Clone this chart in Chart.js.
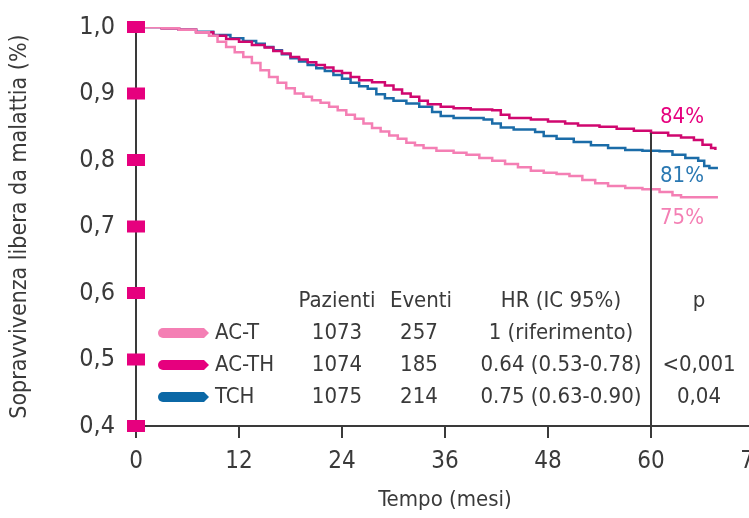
<!DOCTYPE html>
<html>
<head>
<meta charset="utf-8">
<script src="https://cdn.jsdelivr.net/npm/chart.js@4.4.1/dist/chart.umd.min.js"></script>
<style>
  html, body { margin: 0; padding: 0; background: #fff; overflow: hidden; }
  #wrap { width: 780px; height: 518px; }
</style>
</head>
<body>
<div id="wrap"><canvas id="km" width="780" height="518"></canvas></div>
<script>
// Kaplan-Meier curves (months, survival)
const acTMonths = [0, 3, 5, 7, 8.5, 9.5, 10.5, 11.5, 12.5, 13.5, 14.5, 15.5, 16.5, 17.5, 18.5, 19.5, 20.5, 21.5, 22.5, 23.5, 24.5, 25.5, 26.5, 27.5, 28.5, 29.5, 30.5, 31.5, 32.5, 33.5, 35, 37, 38.5, 40, 41.5, 43, 44.5, 46, 47.5, 49, 50.5, 52, 53.5, 55, 57, 59, 61, 62.5, 63.5, 67.8];
const acTSurv = [1.000, 0.998, 0.996, 0.992, 0.987, 0.978, 0.970, 0.962, 0.955, 0.946, 0.935, 0.925, 0.916, 0.908, 0.900, 0.895, 0.890, 0.886, 0.880, 0.875, 0.868, 0.862, 0.855, 0.848, 0.843, 0.837, 0.832, 0.826, 0.822, 0.818, 0.814, 0.811, 0.808, 0.803, 0.799, 0.794, 0.789, 0.784, 0.781, 0.779, 0.776, 0.770, 0.765, 0.761, 0.758, 0.756, 0.752, 0.747, 0.744, 0.744];

const acTHMonths = [0, 3, 5, 7, 9, 10.5, 12, 13.5, 15, 16, 17, 18, 19, 20, 21, 22, 23, 24, 25, 26, 27.5, 29, 30, 31, 32, 33, 34, 35.5, 37, 39, 41.5, 42.5, 43.5, 46, 48, 50, 51.5, 54, 56, 58, 60, 62, 63.5, 65, 66, 67, 67.5];
const acTHSurv = [1.000, 0.998, 0.996, 0.992, 0.987, 0.982, 0.978, 0.973, 0.969, 0.964, 0.960, 0.955, 0.951, 0.947, 0.943, 0.939, 0.934, 0.931, 0.925, 0.920, 0.917, 0.912, 0.906, 0.900, 0.895, 0.889, 0.884, 0.880, 0.878, 0.876, 0.875, 0.868, 0.863, 0.861, 0.858, 0.855, 0.852, 0.850, 0.847, 0.844, 0.841, 0.837, 0.834, 0.830, 0.823, 0.818, 0.815];

const tchMonths = [0, 3, 5, 7, 9, 11, 12.5, 14, 15, 16, 17, 18, 19, 20, 21, 22, 23, 24, 25, 26, 27, 28, 29, 30, 31.5, 33, 34.5, 35.5, 37, 40.5, 41.5, 42.5, 44, 46.5, 47.5, 49, 51, 53, 55, 57, 59, 61, 62.5, 64, 65.5, 66.2, 66.8, 67.8];
const tchSurv = [1.000, 0.998, 0.996, 0.993, 0.988, 0.983, 0.979, 0.975, 0.970, 0.965, 0.959, 0.953, 0.948, 0.943, 0.938, 0.934, 0.928, 0.922, 0.916, 0.911, 0.907, 0.899, 0.893, 0.889, 0.885, 0.880, 0.872, 0.866, 0.863, 0.861, 0.855, 0.849, 0.846, 0.842, 0.836, 0.832, 0.827, 0.822, 0.818, 0.815, 0.814, 0.813, 0.808, 0.803, 0.799, 0.791, 0.788, 0.788];

// table / legend content
const groups = ['AC-T', 'AC-TH', 'TCH'];
const patients = ['1073', '1074', '1075'];
const events = ['257', '185', '214'];
const hazardRatios = ['1 (riferimento)', '0.64 (0.53-0.78)', '0.75 (0.63-0.90)'];
const pValues = ['', '<0,001', '0,04'];
const tableHeaders = ['Pazienti', 'Eventi', 'HR (IC 95%)', 'p'];
const endLabels = ['75%', '84%', '81%'];
const refMonth = 60;

const lineColors = ['#f47fb4', '#d0076f', '#1b6ca8'];
const swatchColors = ['#f47fb4', '#e6007e', '#0b68a6'];
const labelColors = ['#f47fb4', '#e6007e', '#2a78b2'];
const MARK = '#e6007e';
const AXIS = '#3a3a3a';
const TEXT = '#3a3a3a';
const NARROW = "'Liberation Sans Narrow', 'DejaVu Sans Condensed', 'Liberation Sans', sans-serif";

const toPoints = (ms, vs) => ms.map((m, i) => ({ x: m, y: vs[i] }));

function survAt(ms, vs, m) {
  let v = vs[0];
  ms.forEach((t, i) => { if (t <= m) v = vs[i]; });
  return v;
}

function swatch(ctx, x0, x1, cy, h, color) {
  const r = h / 2;
  ctx.beginPath();
  ctx.moveTo(x0 + r, cy - r);
  ctx.lineTo(x1 - r, cy - r);
  ctx.lineTo(x1, cy);
  ctx.lineTo(x1 - r, cy + r);
  ctx.lineTo(x0 + r, cy + r);
  ctx.arc(x0 + r, cy, r, Math.PI / 2, Math.PI * 1.5);
  ctx.closePath();
  ctx.fillStyle = color;
  ctx.fill();
}

const extras = {
  id: 'kmExtras',
  afterDraw(chart) {
    const ctx = chart.ctx;
    const xs = chart.scales.x;
    const ys = chart.scales.y;
    ctx.save();

    // reference line at 60 months, from the AC-TH curve down to the axis
    const px = xs.getPixelForValue(refMonth);
    ctx.strokeStyle = AXIS;
    ctx.lineWidth = 2;
    ctx.beginPath();
    ctx.moveTo(px, ys.getPixelForValue(survAt(acTHMonths, acTHSurv, refMonth)));
    ctx.lineTo(px, ys.bottom);
    ctx.stroke();

    // magenta squares on the y ticks
    ctx.fillStyle = MARK;
    ys.ticks.forEach(t => {
      const py = ys.getPixelForValue(t.value);
      ctx.fillRect(xs.left - 9, py - 6, 18, 12);
    });

    // end-of-curve labels
    ctx.font = '22px ' + NARROW;
    ctx.textAlign = 'left';
    ctx.textBaseline = 'middle';
    const labelY = [218, 117, 176];
    endLabels.forEach((s, i) => {
      ctx.fillStyle = labelColors[i];
      ctx.fillText(s, 660, labelY[i]);
    });

    // table
    ctx.font = '22px ' + NARROW;
    ctx.fillStyle = TEXT;
    ctx.textAlign = 'center';
    const colX = [337, 421, 561, 699];
    tableHeaders.forEach((h, i) => ctx.fillText(h, colX[i], 301));
    const rowY = [333, 365, 397];
    groups.forEach((g, i) => {
      swatch(ctx, 158, 209, rowY[i], 10, swatchColors[i]);
      ctx.fillStyle = TEXT;
      ctx.textAlign = 'left';
      ctx.fillText(g, 215, rowY[i]);
      ctx.textAlign = 'center';
      ctx.fillText(patients[i], colX[0], rowY[i]);
      ctx.fillText(events[i], colX[1] - 2, rowY[i]);
      ctx.fillText(hazardRatios[i], colX[2], rowY[i]);
      ctx.fillText(pValues[i], colX[3], rowY[i]);
    });
    ctx.restore();
  }
};

const series = [
  { label: 'AC-T', data: toPoints(acTMonths, acTSurv) },
  { label: 'AC-TH', data: toPoints(acTHMonths, acTHSurv) },
  { label: 'TCH', data: toPoints(tchMonths, tchSurv) }
];

new Chart(document.getElementById('km'), {
  type: 'line',
  data: {
    datasets: series.map((s, i) => ({
      label: s.label,
      data: s.data,
      borderColor: lineColors[i],
      borderWidth: 2.5,
      pointRadius: 0,
      stepped: 'before',
      fill: false
    }))
  },
  options: {
    responsive: false,
    animation: false,
    layout: { padding: { top: 27, right: 26, left: 0, bottom: 0 } },
    plugins: { legend: { display: false }, tooltip: { enabled: false } },
    scales: {
      x: {
        type: 'linear',
        min: 0,
        max: 72,
        ticks: { stepSize: 12, color: TEXT, font: { family: NARROW, size: 24 }, padding: 9, maxRotation: 0 },
        grid: { drawOnChartArea: false, drawTicks: true, tickLength: 12, color: AXIS, lineWidth: 2 },
        border: { color: AXIS, width: 2 },
        title: { display: true, text: 'Tempo (mesi)', color: TEXT, font: { family: NARROW, size: 22 }, padding: { top: 0, bottom: 5 } },
        afterFit: s => { s.height = 92; }
      },
      y: {
        min: 0.4,
        max: 1.0,
        ticks: {
          stepSize: 0.1,
          color: TEXT,
          font: { family: NARROW, size: 25 },
          padding: 21,
          callback: v => v.toFixed(1).replace('.', ',')
        },
        grid: { display: false, drawTicks: false },
        border: { color: AXIS, width: 2 },
        title: { display: true, text: 'Sopravvivenza libera da malattia (%)', color: TEXT, font: { family: NARROW, size: 23 }, padding: { top: 6, bottom: 0 } },
        afterFit: s => { s.width = 136; s.paddingTop = 0; s.paddingBottom = 0; }
      }
    }
  },
  plugins: [extras]
});
</script>
</body>
</html>
